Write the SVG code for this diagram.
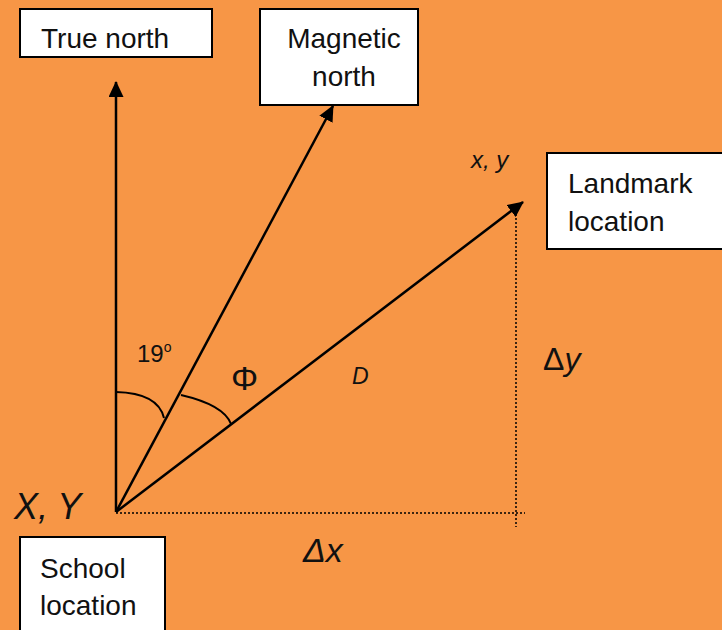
<svg xmlns="http://www.w3.org/2000/svg" width="722" height="630" viewBox="0 0 722 630">
<style>
.box{fill:#fff;stroke:#000;stroke-width:2}
.lbl{font-family:"Liberation Sans",Arial,sans-serif;font-size:28px;fill:#111}
.it{font-family:"Liberation Sans",Arial,sans-serif;font-style:italic;fill:#111}
.up{font-style:normal}
.arrow{stroke:#000;stroke-width:2.5;fill:none;marker-end:url(#ah)}
.dot{stroke:#000;stroke-width:1.5;stroke-dasharray:2 2;fill:none}
.arc{stroke:#000;stroke-width:2;fill:none}
</style>
<defs>
<marker id="ah" markerUnits="userSpaceOnUse" markerWidth="16" markerHeight="15" refX="15" refY="7.5" orient="auto">
<path d="M0,0 L16,7.5 L0,15 z" fill="#000"/>
</marker>
</defs>
<rect width="722" height="630" fill="#F79646"/>
<g id="true-north">
<rect class="box" x="20" y="9" width="192" height="48"/>
<text class="lbl" x="41" y="48">True north</text>
</g>
<g id="magnetic-north">
<rect class="box" x="260" y="9" width="158" height="96"/>
<text class="lbl" x="344" y="48" text-anchor="middle">Magnetic</text>
<text class="lbl" x="344" y="86" text-anchor="middle">north</text>
</g>
<g id="landmark-location">
<rect class="box" x="547" y="153" width="180" height="96"/>
<text class="lbl" x="568" y="193">Landmark</text>
<text class="lbl" x="568" y="231">location</text>
</g>
<g id="school-location">
<rect class="box" x="20" y="537" width="145" height="100"/>
<text class="lbl" x="40" y="578">School</text>
<text class="lbl" x="40" y="615">location</text>
</g>
<g id="connectors">
<line class="arrow" x1="116" y1="512" x2="116" y2="82"/>
<line class="arrow" x1="116" y1="512" x2="333" y2="106"/>
<line class="arrow" x1="116" y1="512" x2="523" y2="202"/>
<line class="dot" x1="116" y1="513" x2="525" y2="513"/>
<line class="dot" x1="516" y1="214" x2="516" y2="527"/>
<path class="arc" d="M116,392 Q158,393 164,418"/>
<path class="arc" d="M181,395 Q224,405 231,424"/>
</g>
<g id="labels">
<text class="it" x="14" y="519" font-size="36">X, Y</text>
<text class="it" x="471" y="168" font-size="24">x, y</text>
<text class="it" x="352" y="384" font-size="23">D</text>
<text class="it" x="303" y="562" font-size="34">Δx</text>
<text class="it" x="543" y="370" font-size="32"><tspan class="up">Δ</tspan>y</text>
<text class="lbl" x="231" y="390" style="font-size:34px">Φ</text>
<text class="lbl" x="137" y="362" style="font-size:24px">19<tspan font-size="14" dy="-10">o</tspan></text>
</g>
</svg>
